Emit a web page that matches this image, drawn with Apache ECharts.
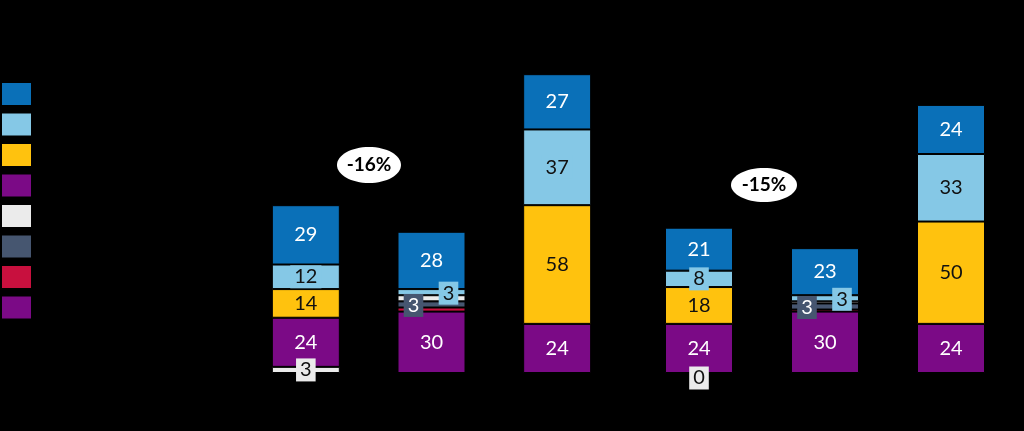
<!DOCTYPE html>
<html><head><meta charset="utf-8">
<script src="https://cdn.jsdelivr.net/npm/echarts@6/dist/echarts.min.js"></script>
<style>html,body{margin:0;padding:0;background:#000}#c{width:1024px;height:431px}</style>
</head><body><div id="c"></div>
<script>
// ---- data ----
const categories = ['C1', 'C2', 'C3', 'C4', 'C5', 'C6'];
const legendNames = ['Series 1', 'Series 2', 'Series 3', 'Series 4', 'Series 5', 'Series 6', 'Series 7', 'Series 8'];
const blueVals      = [29, 28, 27, 21, 23, 24];
const lightBlueVals = [12, 3, 37, 8, 3, 33];
const yellowVals    = [14, null, 58, 18, null, 50];
const purpleVals    = [24, null, 24, 24, null, 24];
const whiteVals     = [3, 3, null, 0, 1, null];
const darkVals      = [null, 3, null, null, 3, null];
const redVals       = [null, 2, null, null, 1, null];
const purple2Vals   = [null, 30, null, null, 30, null];
const deltaLabels   = ['-16%', '-15%'];

// ---- styles ----
const C = {
  blue: '#0A70B8', light: '#85C8E6', yellow: '#FFC20E', purple: '#7B0A86',
  white: '#EBEBEB', dark: '#465670', red: '#C8103E'
};
const FONT = 'Lato';
const darkText = '#111111';

// stack bottom -> top
const defs = [
  { name: legendNames[7], vals: purple2Vals,   color: C.purple, text: '#fff' },
  { name: legendNames[6], vals: redVals,       color: C.red,    text: '#fff', hideAll: true },
  { name: legendNames[5], vals: darkVals,      color: C.dark,   text: '#fff', box: true, itemLabel: { 1: { offset: [-18, 1] }, 4: { offset: [-18, 1] } } },
  { name: legendNames[4], vals: whiteVals,     color: C.white,  text: darkText, box: true, hide: [1, 4], itemLabel: { 0: { offset: [0, 0] }, 3: { offset: [0, 5] } } },
  { name: legendNames[3], vals: purpleVals,    color: C.purple, text: '#fff' },
  { name: legendNames[2], vals: yellowVals,    color: C.yellow, text: darkText },
  { name: legendNames[1], vals: lightBlueVals, color: C.light,  text: darkText, box: true, itemLabel: { 1: { offset: [17, 1] }, 4: { offset: [17, 1] } } },
  { name: legendNames[0], vals: blueVals,      color: C.blue,   text: '#fff' }
];

const groups = [[0, 1, 2], [3, 4, 5]];
const series = [];
groups.forEach((idxs, g) => {
  defs.forEach(d => {
    series.push({
      type: 'bar', name: d.name, stack: 'total' + g,
      xAxisIndex: g, yAxisIndex: g, barWidth: 68,
      itemStyle: { color: d.color, borderColor: '#000', borderWidth: 1 },
      label: {
        show: !d.hideAll, position: 'inside', color: d.text,
        fontFamily: FONT, fontSize: 20,
        backgroundColor: d.box ? d.color : 'transparent',
        padding: d.box ? [2, 4, 1, 4] : 0
      },
      emphasis: { disabled: true },
      data: idxs.map(i => {
        const v = d.vals[i];
        const item = { value: v };
        if (d.hide && d.hide.includes(i)) item.label = { show: false };
        if (d.itemLabel && d.itemLabel[i]) item.label = d.itemLabel[i];
        return item;
      })
    });
  });
});

const axisX = (g) => ({
  type: 'category', gridIndex: g, data: groups[g].map(i => categories[i]),
  axisLine: { show: false }, axisTick: { show: false },
  axisLabel: { show: false }
});
const axisY = (g) => ({
  type: 'value', gridIndex: g, min: 0, max: 150, show: false, splitLine: { show: false }
});

const chart = echarts.init(document.getElementById('c'));
chart.setOption({
  backgroundColor: '#000',
  animation: false,
  legend: {
    orient: 'vertical', left: 2, top: 83, padding: 0, icon: 'rect',
    itemWidth: 29, itemHeight: 22, itemGap: 8.5,
    itemStyle: { borderWidth: 0 },
    textStyle: { color: '#000', fontSize: 12, fontFamily: FONT },
    data: legendNames
  },
  grid: [
    { left: 243, width: 377, top: 66, bottom: 58 },
    { left: 636, width: 378, top: 66, bottom: 58 }
  ],
  xAxis: [axisX(0), axisX(1)],
  yAxis: [axisY(0), axisY(1)],
  series: series,
  graphic: [
    { type: 'ellipse', shape: { cx: 369, cy: 165, rx: 32, ry: 18 }, style: { fill: '#fff' } },
    { type: 'text', x: 369, y: 165, style: { text: deltaLabels[0], fill: '#000', font: 'bold 19px ' + FONT, textAlign: 'center', textVerticalAlign: 'middle' } },
    { type: 'ellipse', shape: { cx: 764, cy: 185, rx: 33, ry: 17 }, style: { fill: '#fff' } },
    { type: 'text', x: 764, y: 185, style: { text: deltaLabels[1], fill: '#000', font: 'bold 19px ' + FONT, textAlign: 'center', textVerticalAlign: 'middle' } }
  ]
});
</script>
</body></html>
